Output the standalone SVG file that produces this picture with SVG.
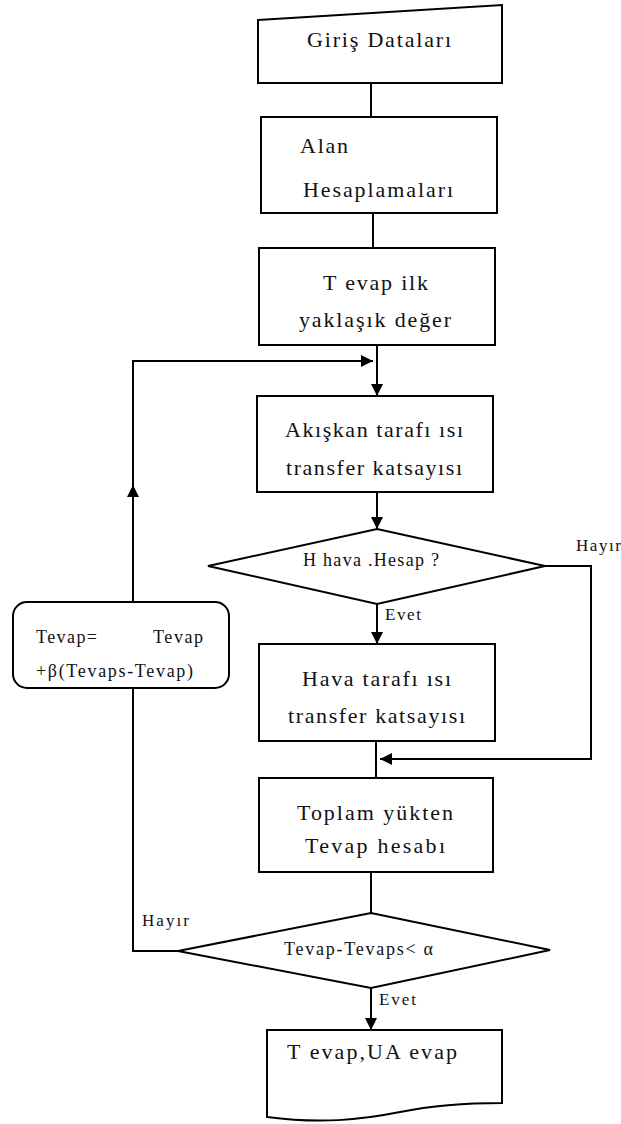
<svg xmlns="http://www.w3.org/2000/svg" width="621" height="1124" viewBox="0 0 621 1124">
<defs>
<marker id="ah" viewBox="0 0 12 12" refX="12" refY="6" markerWidth="12" markerHeight="12" markerUnits="userSpaceOnUse" orient="auto">
<path d="M0,0 L12,6 L0,12 z" fill="#000"/>
</marker>
</defs>
<style>
.s{fill:#fff;stroke:#000;stroke-width:2}
.c{fill:none;stroke:#000;stroke-width:2}
.t{font-family:"Liberation Serif","Times New Roman",serif;fill:#111;font-size:22px}
.d{font-family:"Liberation Serif","Times New Roman",serif;fill:#111;font-size:18px}
.l{font-family:"Liberation Serif","Times New Roman",serif;fill:#111;font-size:17px}
</style>
<rect width="621" height="1124" fill="#fff"/>
<g id="connectors">
<path class="c" d="M371,83 V117"/>
<path class="c" d="M373,213 V248"/>
<path class="c" d="M377,345 V396" marker-end="url(#ah)"/>
<path class="c" d="M377,492 V529" marker-end="url(#ah)"/>
<path class="c" d="M377,604 V644" marker-end="url(#ah)"/>
<path class="c" d="M376,741 V778"/>
<path class="c" d="M545,566 H591 V759 H380" marker-end="url(#ah)"/>
<path class="c" d="M371,872 V913"/>
<path class="c" d="M371,988 V1030" marker-end="url(#ah)"/>
<path class="c" d="M178,951 H133 V688"/>
<path class="c" d="M133,602 V485" marker-end="url(#ah)"/>
<path class="c" d="M133,486 V361 H373" marker-end="url(#ah)"/>
</g>
<g id="giris">
<path class="s" d="M258,20 L502,5 V83 H258 Z"/>
<text class="t" x="307" y="47" textLength="144" lengthAdjust="spacing">Giriş Dataları</text>
</g>
<g id="alan">
<rect class="s" x="261" y="117" width="236" height="96"/>
<text class="t" x="300" y="153" textLength="48" lengthAdjust="spacing">Alan</text>
<text class="t" x="303" y="197" textLength="150" lengthAdjust="spacing">Hesaplamaları</text>
</g>
<g id="tevap-ilk">
<rect class="s" x="259" y="248" width="236" height="97"/>
<text class="t" x="323" y="290" textLength="105" lengthAdjust="spacing">T evap ilk</text>
<text class="t" x="299" y="327" textLength="152" lengthAdjust="spacing">yaklaşık değer</text>
</g>
<g id="akiskan">
<rect class="s" x="257" y="396" width="236" height="96"/>
<text class="t" x="285" y="437" textLength="178" lengthAdjust="spacing">Akışkan tarafı ısı</text>
<text class="t" x="286" y="475" textLength="176" lengthAdjust="spacing">transfer katsayısı</text>
</g>
<g id="h-hava">
<path class="s" d="M377,529 L545,566 L377,604 L208,566 Z"/>
<text class="d" x="303" y="566" textLength="136" lengthAdjust="spacing">H hava .Hesap ?</text>
<text class="l" x="385" y="620" textLength="36" lengthAdjust="spacing">Evet</text>
<text class="l" x="576" y="551" textLength="45" lengthAdjust="spacing">Hayır</text>
</g>
<g id="hava">
<rect class="s" x="259" y="644" width="236" height="97"/>
<text class="t" x="302" y="686" textLength="149" lengthAdjust="spacing">Hava tarafı ısı</text>
<text class="t" x="288" y="723" textLength="177" lengthAdjust="spacing">transfer katsayısı</text>
</g>
<g id="toplam">
<rect class="s" x="259" y="778" width="234" height="94"/>
<text class="t" x="297" y="820" textLength="156" lengthAdjust="spacing">Toplam yükten</text>
<text class="t" x="305" y="853" textLength="140" lengthAdjust="spacing">Tevap hesabı</text>
</g>
<g id="tevap-check">
<path class="s" d="M371,913 L550,950 L371,988 L178,951 Z"/>
<text class="d" x="284" y="955" textLength="149" lengthAdjust="spacing">Tevap-Tevaps&lt; α</text>
<text class="l" x="379" y="1005" textLength="37" lengthAdjust="spacing">Evet</text>
<text class="l" x="142" y="926" textLength="47" lengthAdjust="spacing">Hayır</text>
</g>
<g id="update">
<rect class="s" x="13" y="602" width="216" height="86" rx="14" ry="14"/>
<text class="d" x="36" y="643" textLength="61" lengthAdjust="spacing">Tevap=</text>
<text class="d" x="153" y="643" textLength="50" lengthAdjust="spacing">Tevap</text>
<text class="d" x="36" y="677" textLength="157" lengthAdjust="spacing">+β(Tevaps-Tevap)</text>
</g>
<g id="output">
<path class="s" d="M267,1030 H502 V1103 C460,1103 430,1106 400,1112 C360,1120 320,1124 267,1117 Z"/>
<text class="t" x="287" y="1059" textLength="170" lengthAdjust="spacing">T evap,UA evap</text>
</g>
</svg>
